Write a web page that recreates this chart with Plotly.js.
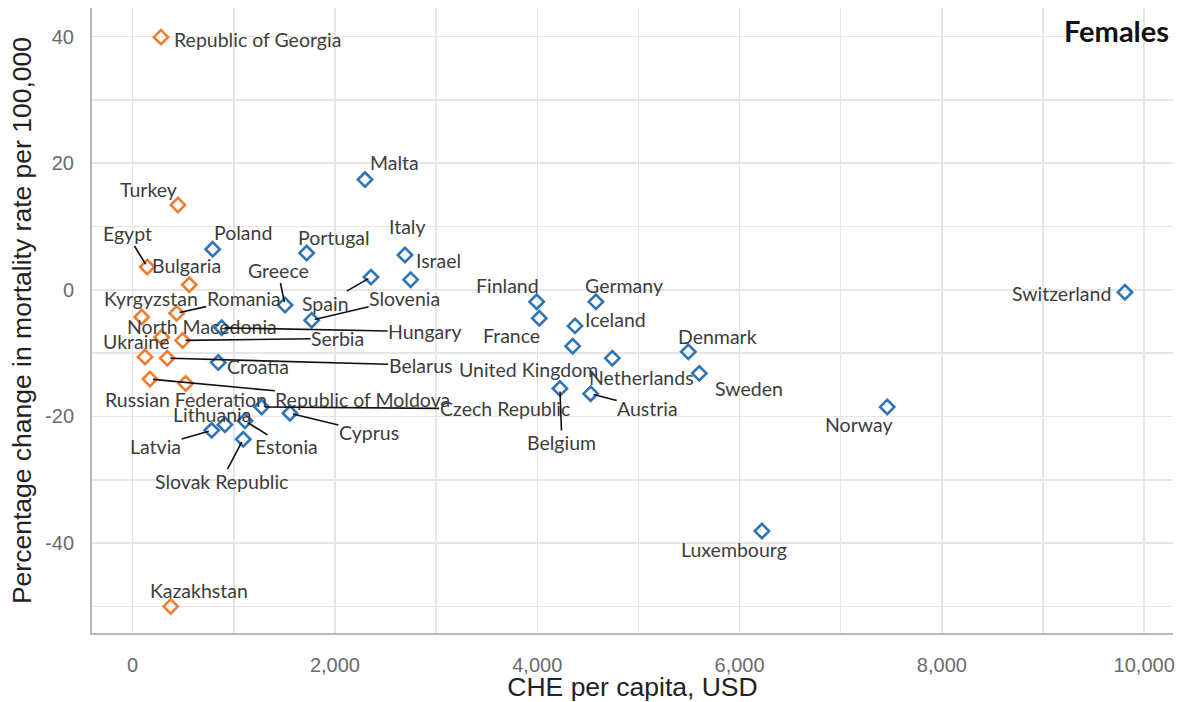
<!DOCTYPE html>
<html>
<head>
<meta charset="utf-8">
<script src="https://cdn.plot.ly/plotly-3.0.1.min.js"></script>
<style>html,body{margin:0;padding:0;background:#fff;}#chart{width:1179px;height:702px;}</style>
</head>
<body>
<div id="chart"></div>
<script>
// ---- data ----
const orangeCountries = ["Republic of Georgia","Turkey","Egypt","Bulgaria","Romania","Kyrgyzstan","North Macedonia","Serbia","Ukraine","Belarus","Republic of Moldova","Russian Federation","Kazakhstan"];
const orangeChe = [280, 448, 144, 560, 435, 89, 287, 494, 122, 342, 171, 524, 376];
const orangeChange = [39.9, 13.4, 3.6, 0.8, -3.7, -4.3, -7.5, -8.0, -10.6, -10.8, -14.1, -14.8, -50.0];

const blueCountries = ["Malta","Poland","Portugal","Italy","Israel","Spain","Slovenia","Greece","Hungary","Croatia","Finland","France","Germany","Iceland","United Kingdom","Netherlands","Belgium","Austria","Denmark","Sweden","Norway","Switzerland","Luxembourg","Czech Republic","Cyprus","Latvia","Lithuania","Estonia","Slovak Republic"];
const blueChe = [2297, 791, 1720, 2692, 2748, 2356, 1770, 1506, 880, 846, 3994, 4020, 4580, 4373, 4350, 4742, 4224, 4528, 5493, 5602, 7460, 9810, 6221, 1275, 1555, 781, 912, 1110, 1093];
const blueChange = [17.4, 6.4, 5.8, 5.5, 1.6, 2.0, -4.8, -2.4, -6.0, -11.5, -1.9, -4.5, -1.9, -5.7, -8.9, -10.8, -15.6, -16.4, -9.8, -13.2, -18.5, -0.4, -38.1, -18.5, -19.5, -22.2, -21.3, -20.7, -23.6];

const xTickVals = [0, 2000, 4000, 6000, 8000, 10000];
const xTickText = ["0", "2,000", "4,000", "6,000", "8,000", "10,000"];
const yTickVals = [-40, -20, 0, 20, 40];
const yTickText = ["-40", "-20", "0", "20", "40"];

// ---- label placement (pixel offsets from marker; true = leader line) ----
const labelOffsets = {
  "Republic of Georgia": [97, 2, false],
  "Turkey": [-29, -15, false],
  "Egypt": [-20, -33, true],
  "Bulgaria": [-3, -19, false],
  "Romania": [67, -15, true],
  "Kyrgyzstan": [9, -19, false],
  "North Macedonia": [40, -11, false],
  "Serbia": [155, -2, true],
  "Ukraine": [-9, -15, false],
  "Belarus": [253, 7, true],
  "Republic of Moldova": [213, 20, true],
  "Russian Federation": [0, 16, false],
  "Kazakhstan": [28, -16, false],
  "Malta": [29, -17, false],
  "Poland": [30, -17, false],
  "Portugal": [27, -16, false],
  "Italy": [3, -28, false],
  "Israel": [28, -19, false],
  "Spain": [-45, 26, true],
  "Slovenia": [93, -22, true],
  "Greece": [-7, -34, true],
  "Hungary": [203, 4, true],
  "Croatia": [40, 4, false],
  "Finland": [-29, -16, false],
  "France": [-28, 17, false],
  "Germany": [28, -16, false],
  "Iceland": [40, -6, false],
  "United Kingdom": [-44, 23, false],
  "Netherlands": [29, 19, false],
  "Belgium": [2, 54, true],
  "Austria": [57, 15, true],
  "Denmark": [29, -15, false],
  "Sweden": [50, 15, false],
  "Norway": [-29, 18, false],
  "Switzerland": [-63, 1, false],
  "Luxembourg": [-28, 18, false],
  "Czech Republic": [243, 2, true],
  "Cyprus": [79, 19, true],
  "Latvia": [-56, 16, true],
  "Lithuania": [-13, -10, false],
  "Estonia": [42, 26, true],
  "Slovak Republic": [-22, 42, true]
};

const ORANGE = "#ED7D31";
const BLUE = "#2E75B6";
const labelFont = {family: "Lato, 'Open Sans', sans-serif", size: 19.5, color: "#3d3d3d"};

function makeTrace(xs, ys, names, color) {
  return {
    type: "scatter", mode: "markers", x: xs, y: ys, text: names,
    hoverinfo: "text+x+y",
    marker: {symbol: "diamond-open", size: 11, color: color, line: {color: color, width: 2.6}},
    showlegend: false, cliponaxis: false
  };
}

const annotations = [];
function addLabels(xs, ys, names) {
  for (let i = 0; i < names.length; i++) {
    const off = labelOffsets[names[i]] || [0, -16, false];
    if (off[2]) {
      annotations.push({
        x: xs[i], y: ys[i], xref: "x", yref: "y", text: names[i],
        showarrow: true, arrowhead: 0, arrowwidth: 1.6, arrowcolor: "#111",
        ax: off[0], ay: off[1], standoff: 3, font: labelFont, borderpad: 0
      });
    } else {
      annotations.push({
        x: xs[i], y: ys[i], xref: "x", yref: "y", text: names[i],
        showarrow: false, xshift: off[0], yshift: -off[1], font: labelFont
      });
    }
  }
}
addLabels(orangeChe, orangeChange, orangeCountries);
addLabels(blueChe, blueChange, blueCountries);

annotations.push({
  xref: "paper", yref: "paper", x: 0.9985, y: 0.995, xanchor: "right", yanchor: "top",
  text: "<b>Females</b>", showarrow: false,
  font: {family: "Lato, 'Open Sans', sans-serif", size: 29, color: "#111"}
});

const gridColor = "#e6e6e6";
const layout = {
  width: 1179, height: 702,
  paper_bgcolor: "#fff", plot_bgcolor: "#fff",
  margin: {l: 92, r: 6, t: 8, b: 69},
  xaxis: {
    range: [-402, 10285], tickvals: xTickVals, ticktext: xTickText,
    showgrid: true, gridcolor: gridColor, gridwidth: 1.5,
    minor: {dtick: 1000, tick0: 0, showgrid: true, gridcolor: gridColor, gridwidth: 1.5},
    zeroline: false, showline: true, linecolor: "#b8b8b8", linewidth: 2,
    ticks: "", ticklabelstandoff: 13,
    tickfont: {family: "'Liberation Sans', Arial, sans-serif", size: 20, color: "#6b6b6b"},
    title: {text: "CHE per capita, USD", standoff: 12,
      font: {family: "'Liberation Sans', Arial, sans-serif", size: 26.5, color: "#222"}}
  },
  yaxis: {
    range: [-54.2, 44.5], tickvals: yTickVals, ticktext: yTickText,
    showgrid: true, gridcolor: gridColor, gridwidth: 1.5,
    minor: {dtick: 10, tick0: 0, showgrid: true, gridcolor: gridColor, gridwidth: 1.5},
    zeroline: false, showline: true, linecolor: "#b8b8b8", linewidth: 2,
    ticks: "", ticklabelstandoff: 12,
    tickfont: {family: "'Liberation Sans', Arial, sans-serif", size: 20, color: "#6b6b6b"},
    title: {text: "Percentage change in mortality rate per 100,000", standoff: 6,
      font: {family: "'Liberation Sans', Arial, sans-serif", size: 26.5, color: "#222"}}
  },
  annotations: annotations
};

Plotly.newPlot("chart", [
  makeTrace(orangeChe, orangeChange, orangeCountries, ORANGE),
  makeTrace(blueChe, blueChange, blueCountries, BLUE)
], layout, {displayModeBar: false, staticPlot: true});
</script>
</body>
</html>
